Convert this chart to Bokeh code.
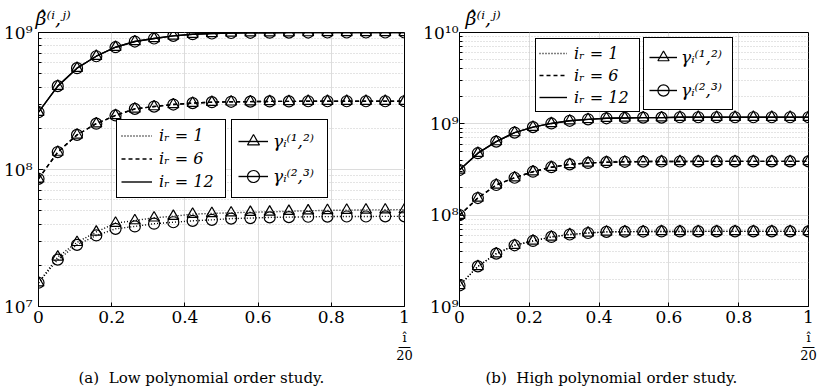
import math
from bokeh.plotting import figure
from bokeh.models import (Range1d, FixedTicker, Legend, LegendItem, ColumnDataSource,
                          LinearAxis, Title)
from bokeh.core.properties import value
from bokeh.layouts import row
from bokeh.embed import file_html
from bokeh.resources import INLINE

FONT = "DejaVu Serif"

# ---------------- data ----------------
x_vals = [0.0, 0.0526, 0.1053, 0.1579, 0.2105, 0.2632, 0.3158, 0.3684, 0.4211, 0.4737,
          0.5263, 0.5789, 0.6316, 0.6842, 0.7368, 0.7895, 0.8421, 0.8947, 0.9474, 1.0]
x_ticks = [0.0, 0.2, 0.4, 0.6, 0.8, 1.0]
x_tick_labels = ["0", "0.2", "0.4", "0.6", "0.8", "1"]
x_label = "î\n\u2014\n20"

a_ytick_vals = [1e7, 1e8, 1e9]
a_ytick_labels = ["10\u2077", "10\u2078", "10\u2079"]
b_ytick_vals = [1e7, 1e8, 1e9, 1e10]
b_ytick_labels = ["10\u2079", "10\u2078", "10\u2079", "10\u00b9\u2070"]
y_label = "β\u0302\u207d\u2071,\u02b2\u207e"

# (a) low polynomial order study
a_r1_g12 = [1.49e7, 2.30e7, 2.94e7, 3.50e7, 4.06e7, 4.24e7, 4.44e7, 4.56e7, 4.72e7, 4.78e7,
            4.83e7, 4.88e7, 4.90e7, 4.96e7, 5.00e7, 5.03e7, 5.05e7, 5.07e7, 5.08e7, 5.10e7]
a_r1_g23 = [1.49e7, 2.20e7, 2.82e7, 3.30e7, 3.69e7, 3.84e7, 4.02e7, 4.12e7, 4.22e7, 4.29e7,
            4.38e7, 4.42e7, 4.47e7, 4.49e7, 4.52e7, 4.53e7, 4.54e7, 4.54e7, 4.55e7, 4.55e7]
a_r6_g12 = [8.55e7, 1.34e8, 1.79e8, 2.16e8, 2.48e8, 2.77e8, 2.88e8, 2.98e8, 3.05e8, 3.10e8,
            3.12e8, 3.13e8, 3.14e8, 3.14e8, 3.15e8, 3.15e8, 3.15e8, 3.15e8, 3.15e8, 3.15e8]
a_r6_g23 = [8.55e7, 1.34e8, 1.79e8, 2.16e8, 2.48e8, 2.77e8, 2.88e8, 2.98e8, 3.05e8, 3.10e8,
            3.12e8, 3.13e8, 3.14e8, 3.14e8, 3.15e8, 3.15e8, 3.15e8, 3.15e8, 3.15e8, 3.15e8]
a_r12_g12 = [2.62e8, 4.06e8, 5.49e8, 6.71e8, 7.81e8, 8.59e8, 9.04e8, 9.45e8, 9.72e8, 9.83e8,
             9.92e8, 9.95e8, 9.97e8, 9.98e8, 9.99e8, 1.0e9, 1.0e9, 1.0e9, 1.0e9, 1.0e9]
a_r12_g23 = [2.62e8, 4.06e8, 5.49e8, 6.71e8, 7.81e8, 8.59e8, 9.04e8, 9.45e8, 9.72e8, 9.83e8,
             9.92e8, 9.95e8, 9.97e8, 9.98e8, 9.99e8, 1.0e9, 1.0e9, 1.0e9, 1.0e9, 1.0e9]

# (b) high polynomial order study
b_r1_g12 = [1.70e7, 2.75e7, 3.79e7, 4.68e7, 5.22e7, 5.78e7, 6.14e7, 6.38e7, 6.56e7, 6.60e7,
            6.62e7, 6.63e7, 6.63e7, 6.64e7, 6.64e7, 6.64e7, 6.64e7, 6.64e7, 6.64e7, 6.64e7]
b_r1_g23 = b_r1_g12
b_r6_g12 = [1.00e8, 1.54e8, 2.14e8, 2.57e8, 2.99e8, 3.35e8, 3.60e8, 3.73e8, 3.80e8, 3.84e8,
            3.86e8, 3.87e8, 3.87e8, 3.88e8, 3.88e8, 3.88e8, 3.88e8, 3.88e8, 3.88e8, 3.88e8]
b_r6_g23 = b_r6_g12
b_r12_g12 = [3.12e8, 4.77e8, 6.39e8, 8.02e8, 9.20e8, 1.01e9, 1.08e9, 1.12e9, 1.15e9, 1.16e9,
             1.17e9, 1.17e9, 1.18e9, 1.18e9, 1.18e9, 1.18e9, 1.18e9, 1.18e9, 1.18e9, 1.18e9]
b_r12_g23 = b_r12_g12

ir_labels = ["i\u1d63 = 1", "i\u1d63 = 6", "i\u1d63 = 12"]
ir_dashes = ["1 2", "4 3", "solid"]
gamma_labels = ["γ\u1d62\u207d\u00b9,\u00b2\u207e", "γ\u1d62\u207d\u00b2,\u00b3\u207e"]
gamma_markers = ["triangle", "circle"]
captions = ["(a)\u00a0\u00a0Low polynomial order study.",
            "(b)\u00a0\u00a0High polynomial order study."]

# ---------------- layout (canvas pixels) ----------------
FH = 274
BT = 32
BB = 86
FB = BT + FH  # canvas y of frame bottom


def panel(series, yr, ytv, ytl, gap, fw, bl, br, cap, capoff, yloff, L1, L2):
    p = figure(frame_width=fw, frame_height=FH, x_range=Range1d(0, 1), y_range=Range1d(*yr),
               y_axis_type="log", output_backend="svg", toolbar_location=None,
               min_border_left=bl, min_border_right=br, min_border_top=BT, min_border_bottom=BB)
    p.outline_line_color = "black"
    p.outline_line_alpha = 1
    p.outline_line_width = 1
    p.background_fill_color = "white"
    p.border_fill_color = "white"

    # y label as a title above the frame
    p.add_layout(Title(text=y_label, align="left", offset=yloff, text_font=FONT,
                       text_font_size="19px", text_font_style="italic", standoff=8,
                       text_color="black"), "above")

    # x axis
    p.xaxis.ticker = FixedTicker(ticks=x_ticks)
    p.xaxis.major_label_overrides = {t: l for t, l in zip(x_ticks, x_tick_labels)}
    p.xaxis.major_label_text_font = FONT
    p.xaxis.major_label_text_font_size = "17px"
    p.xaxis.major_label_text_color = "black"
    p.xaxis.major_label_standoff = 4
    p.xaxis.major_tick_in = 4
    p.xaxis.major_tick_out = 0
    p.xaxis.minor_tick_line_color = None
    p.xaxis.axis_line_color = "black"
    p.xgrid.grid_line_color = "#dcdcdc"
    p.xgrid.grid_line_width = 1

    # fraction label under the "1" tick
    fx = LinearAxis(ticker=FixedTicker(ticks=[x_ticks[-1]]),
                    major_label_overrides={x_ticks[-1]: x_label},
                    axis_line_color=None, major_tick_line_color=None,
                    minor_tick_line_color=None, major_label_standoff=4,
                    major_tick_in=0, major_tick_out=0,
                    major_label_text_font=FONT, major_label_text_font_size="13px",
                    major_label_text_line_height=0.6, major_label_text_color="black")
    p.add_layout(fx, "below")

    # caption
    p.add_layout(Title(text=cap, align="left", offset=capoff, text_font=FONT,
                       text_font_size="15px", text_font_style="normal", standoff=2,
                       text_color="black"), "below")

    # y axis
    e0, e1 = int(round(math.log10(yr[0]))), int(round(math.log10(yr[1])))
    minor = [m * 10.0 ** e for e in range(e0, e1) for m in range(2, 10)]
    tk = FixedTicker(ticks=ytv, minor_ticks=minor)
    p.yaxis.ticker = tk
    p.ygrid.ticker = tk
    p.yaxis.major_label_overrides = {v: l for v, l in zip(ytv, ytl)}
    p.yaxis.major_label_text_font = FONT
    p.yaxis.major_label_text_font_size = "17px"
    p.yaxis.major_label_text_color = "black"
    p.yaxis.major_label_standoff = gap
    p.yaxis.major_tick_in = 5
    p.yaxis.major_tick_out = 0
    p.yaxis.minor_tick_in = 3
    p.yaxis.minor_tick_out = 0
    p.yaxis.axis_line_color = "black"
    p.ygrid.grid_line_color = "#dcdcdc"
    p.ygrid.minor_grid_line_color = "#c8c8c8"
    p.ygrid.minor_grid_line_dash = "1 2"

    # series
    rl, rs = [], []
    for y, dash, marker in series:
        src = ColumnDataSource(dict(x=x_vals, y=y))
        rl.append(p.line("x", "y", source=src, line_color="black", line_width=1.4, line_dash=dash))
        rs.append(p.scatter("x", "y", source=src, marker=marker, size=11, fill_color=None,
                            line_color="black", line_width=1.2))

    # legends, built from the series' own renderers
    common = dict(margin=0, border_line_color="black", border_line_width=1, border_line_alpha=1,
                  background_fill_color="white", background_fill_alpha=1,
                  label_text_font=FONT, label_text_color="black",
                  label_text_font_style="italic")
    leg1 = Legend(items=[LegendItem(label=value(ir_labels[k]), renderers=[rl[2 * k]]) for k in range(3)],
                  location=L1["loc"], padding=L1["pad"], spacing=L1["sp"],
                  glyph_width=L1["gw"], glyph_height=L1["gh"], label_height=L1["gh"],
                  label_standoff=L1["so"], label_width=L1["lw"],
                  label_text_font_size="16px", **common)
    leg2 = Legend(items=[LegendItem(label=value(gamma_labels[k]), renderers=[rl[4 + k], rs[4 + k]])
                         for k in range(2)],
                  location=L2["loc"], padding=L2["pad"], spacing=L2["sp"],
                  glyph_width=L2["gw"], glyph_height=L2["gh"], label_height=L2["gh"],
                  label_standoff=L2["so"], label_width=L2["lw"],
                  label_text_font_size="17px", **common)
    p.add_layout(leg1)
    p.add_layout(leg2)
    return p


a_series = [(a_r1_g12, ir_dashes[0], gamma_markers[0]), (a_r1_g23, ir_dashes[0], gamma_markers[1]),
            (a_r6_g12, ir_dashes[1], gamma_markers[0]), (a_r6_g23, ir_dashes[1], gamma_markers[1]),
            (a_r12_g12, ir_dashes[2], gamma_markers[0]), (a_r12_g23, ir_dashes[2], gamma_markers[1])]
b_series = [(b_r1_g12, ir_dashes[0], gamma_markers[0]), (b_r1_g23, ir_dashes[0], gamma_markers[1]),
            (b_r6_g12, ir_dashes[1], gamma_markers[0]), (b_r6_g23, ir_dashes[1], gamma_markers[1]),
            (b_r12_g12, ir_dashes[2], gamma_markers[0]), (b_r12_g23, ir_dashes[2], gamma_markers[1])]

# left panel: frame canvas x 38..404
FLA = 38
L1a = dict(loc=(116 - FLA, FB - 198), pad=4, sp=0, gw=31, gh=23, so=7, lw=62)
L2a = dict(loc=(231 - FLA, FB - 198), pad=6, sp=5, gw=30, gh=30, so=5, lw=48)
pa = panel(a_series, (1e7, 1e9), a_ytick_vals, a_ytick_labels, 6, 366, 38, 16,
           captions[0], 40, -3, L1a, L2a)

# right panel: frame canvas x 457..806 (second canvas starts at x=420)
FLB = 457
L1b = dict(loc=(533 - FLB, FB - 112), pad=3, sp=0, gw=28, gh=22, so=7, lw=62)
L2b = dict(loc=(641 - FLB, FB - 110), pad=5, sp=5, gw=28, gh=28, so=4, lw=46)
pb = panel(b_series, (1e7, 1e10), b_ytick_vals, b_ytick_labels, 1, 349, 37, 19,
           captions[1], 26, 6, L1b, L2b)

layout = row(pa, pb)
open("out.html", "w").write(file_html(layout, INLINE))
